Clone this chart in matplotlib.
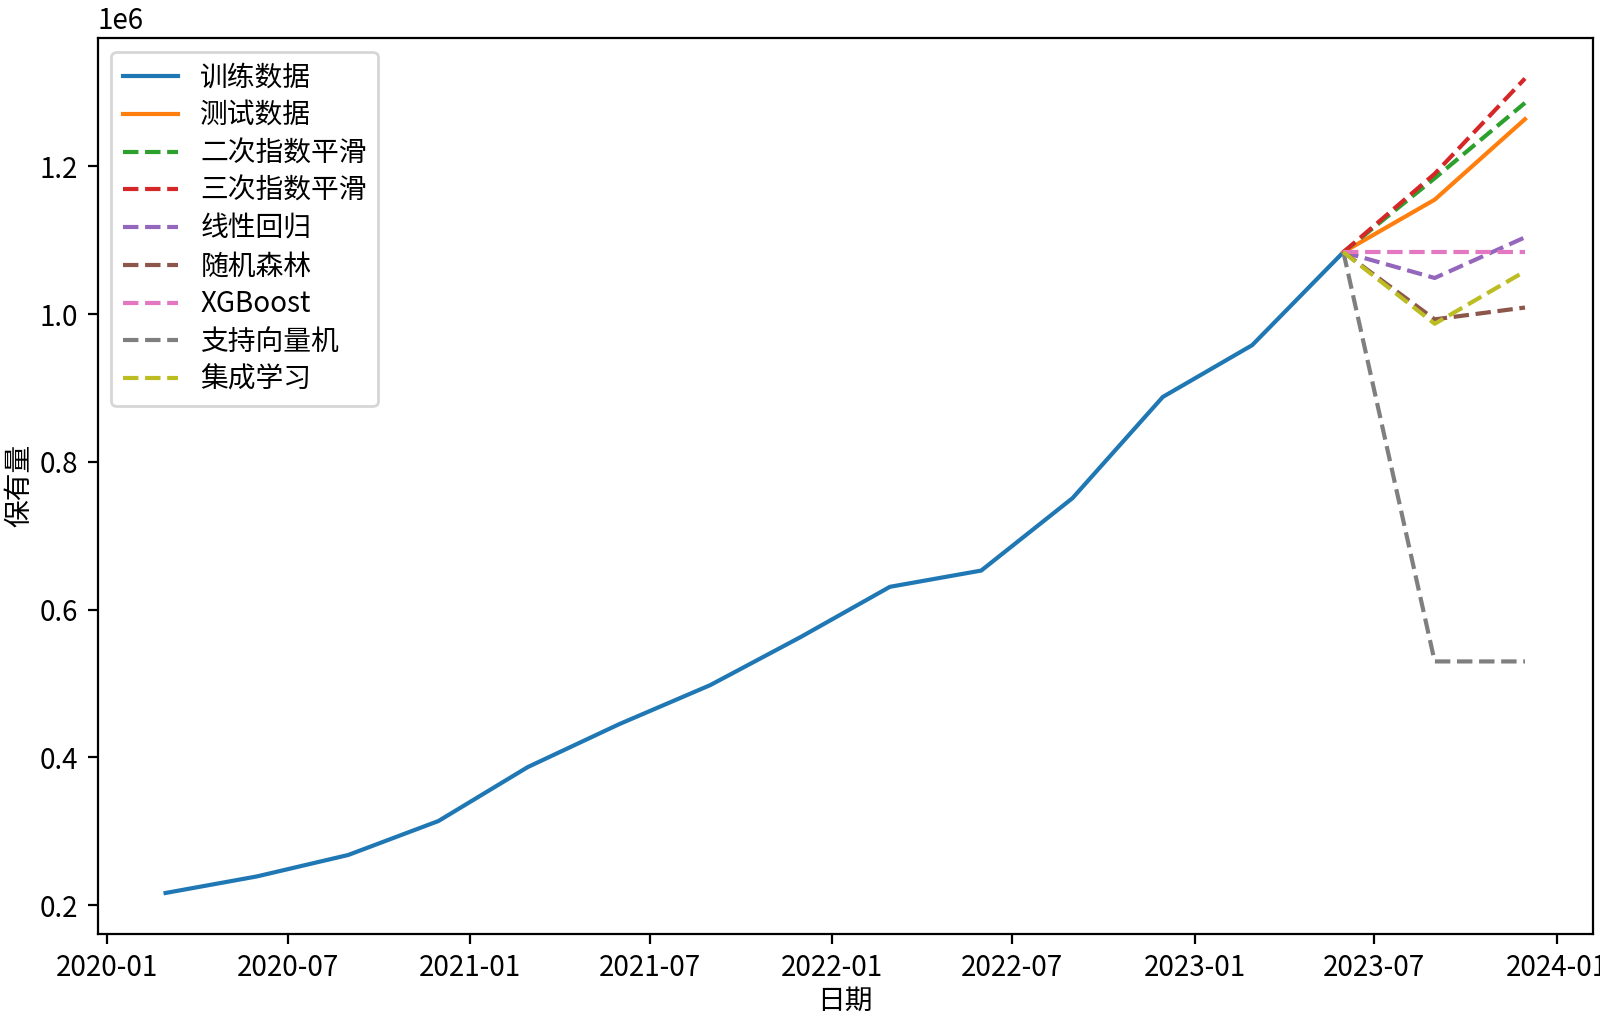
import matplotlib
matplotlib.use("Agg")
import matplotlib.pyplot as plt
import pandas as pd

plt.rcParams['font.family'] = ['Noto Sans CJK SC', 'DejaVu Sans']
plt.rcParams['axes.unicode_minus'] = False

train_dates = ['2020-02-29', '2020-05-31', '2020-08-31', '2020-11-30',
               '2021-02-28', '2021-05-31', '2021-08-31', '2021-11-30',
               '2022-02-28', '2022-05-31', '2022-08-31', '2022-11-30',
               '2023-02-28', '2023-05-31']
train_values = [216600, 239000, 268000, 314000, 387000, 445000, 498000, 563000,
                631000, 653000, 751000, 888000, 958000, 1084000]

test_dates = ['2023-05-31', '2023-08-31', '2023-11-30']
test_values = [1084000, 1155000, 1264000]

pred_names = ['二次指数平滑', '三次指数平滑', '线性回归', '随机森林',
              'XGBoost', '支持向量机', '集成学习']
pred_values = {
    '二次指数平滑': [1084000, 1184000, 1286000],
    '三次指数平滑': [1084000, 1190000, 1319000],
    '线性回归': [1084000, 1049000, 1104000],
    '随机森林': [1084000, 993000, 1009000],
    'XGBoost': [1084000, 1084000, 1084000],
    '支持向量机': [1084000, 530000, 530000],
    '集成学习': [1084000, 987000, 1058000],
}
pred_colors = ['tab:green', 'tab:red', 'tab:purple', 'tab:brown',
               'tab:pink', 'tab:gray', 'tab:olive']

fig = plt.figure(figsize=(8, 5.105), dpi=200)
ax = fig.add_axes([0.061, 0.0855, 0.9346, 0.8775])

ax.plot(pd.to_datetime(train_dates), train_values, color='tab:blue', label='训练数据')
ax.plot(pd.to_datetime(test_dates), test_values, color='tab:orange', label='测试数据')
for name, c in zip(pred_names, pred_colors):
    ax.plot(pd.to_datetime(test_dates), pred_values[name], '--', color=c, label=name)

ax.set_xlabel('日期', labelpad=1)
ax.set_ylabel('保有量', labelpad=2)
ax.legend(loc='upper left', labelspacing=0.28)

fig.savefig('out.png', dpi=200)
